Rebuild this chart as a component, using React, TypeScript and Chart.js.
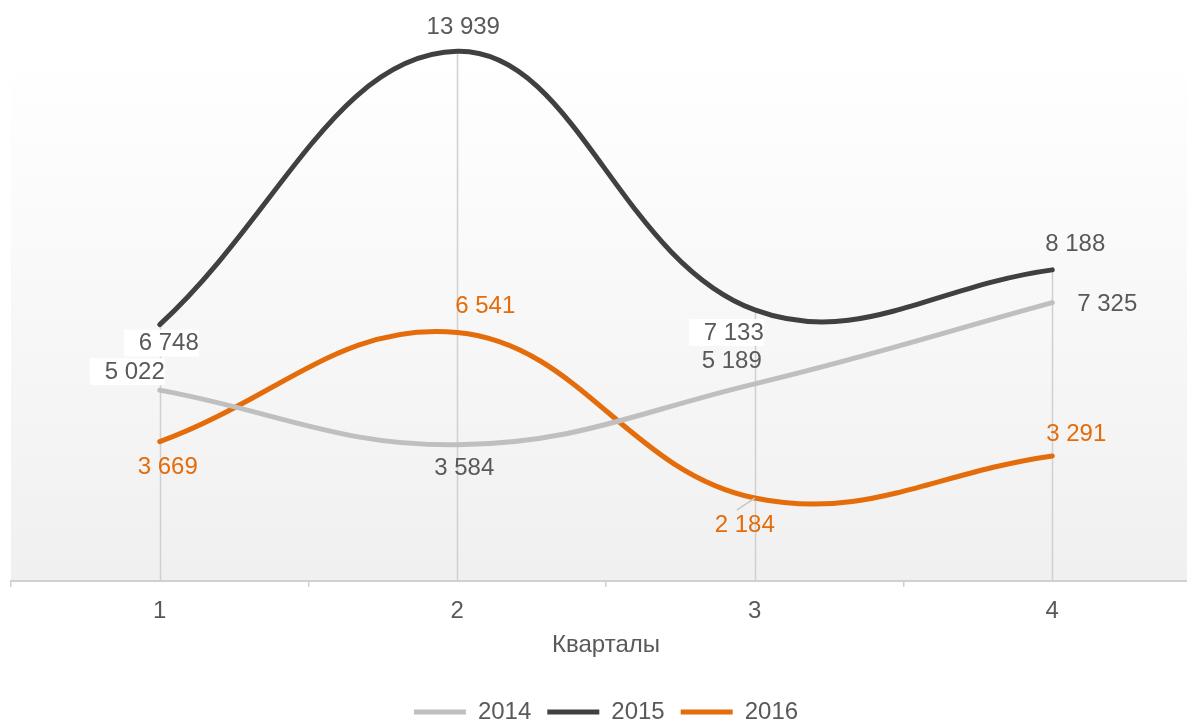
import React, { useEffect, useRef } from "react";
import { Chart, registerables } from "chart.js";

Chart.register(...registerables);

const categories = ["1", "2", "3", "4"];
const series2014 = [5022, 3584, 5189, 7325];
const series2015 = [6748, 13939, 7133, 8188];
const series2016 = [3669, 6541, 2184, 3291];
const seriesNames = ["2014", "2015", "2016"];
const axisTitle = "Кварталы";

const COLORS = ["#BFBFBF", "#404040", "#E46C0A"];
const TEXT_GREY = "#595959";
const FONT = "'Liberation Sans', Arial, sans-serif";

// label placement relative to each point: [dx, dy, whiteBox]
const LABEL_PLACEMENT: [number, number, boolean][][] = [
  [[-25, -18, true], [7, 24, false], [-23, -22, false], [55, 2, false]],
  [[9, 19, true], [6, -24, false], [-21, 23, true], [23, -25, false]],
  [[8, 26, false], [28, -26, false], [-10, 27, false], [24, -22, false]],
];

const fmt = (v: number) => String(v).replace(/\B(?=(\d{3})+(?!\d))/g, " ");

const bgPlugin = {
  id: "bgPlugin",
  beforeDraw(chart: any) {
    const { ctx, chartArea } = chart;
    const top = chartArea.top + 4;
    const g = ctx.createLinearGradient(0, top, 0, chartArea.bottom);
    g.addColorStop(0, "#FFFFFF");
    g.addColorStop(1, "#F0F0F0");
    ctx.save();
    ctx.fillStyle = g;
    ctx.fillRect(chartArea.left, top, chartArea.right - chartArea.left, chartArea.bottom - top);
    ctx.restore();
  },
};

const dropLinePlugin = {
  id: "dropLines",
  beforeDatasetsDraw(chart: any) {
    const { ctx, chartArea } = chart;
    const x = chart.scales.x;
    const y = chart.scales.y;
    ctx.save();
    ctx.strokeStyle = "#D0D0D0";
    ctx.lineWidth = 1.5;
    categories.forEach((_, i) => {
      const maxV = Math.max(...chart.data.datasets.map((d: any) => d.data[i]));
      const px = Math.round(x.getPixelForValue(i)) + 0.5;
      ctx.beginPath();
      ctx.moveTo(px, y.getPixelForValue(maxV));
      ctx.lineTo(px, chartArea.bottom);
      ctx.stroke();
    });
    ctx.restore();
  },
};

const labelPlugin = {
  id: "valueLabels",
  afterDatasetsDraw(chart: any) {
    const { ctx } = chart;
    ctx.save();
    ctx.font = `24px ${FONT}`;
    ctx.textAlign = "center";
    ctx.textBaseline = "middle";
    chart.data.datasets.forEach((ds: any, si: number) => {
      const meta = chart.getDatasetMeta(si);
      meta.data.forEach((pt: any, i: number) => {
        const [dx, dy, box] = LABEL_PLACEMENT[si][i];
        const text = fmt(ds.data[i]);
        const cx = pt.x + dx;
        const cy = pt.y + dy;
        const w = ctx.measureText(text).width;
        if (box) {
          ctx.fillStyle = "#FFFFFF";
          ctx.fillRect(cx + w / 2 - 75, cy - 14, 75, 27);
        }
        if (si === 2 && i === 2) {
          ctx.strokeStyle = "#C8C8C8";
          ctx.lineWidth = 1.5;
          ctx.beginPath();
          ctx.moveTo(pt.x, pt.y);
          ctx.lineTo(pt.x - 18, pt.y + 12);
          ctx.stroke();
        }
        ctx.fillStyle = si === 2 ? COLORS[2] : TEXT_GREY;
        ctx.fillText(text, cx, cy);
      });
    });
    ctx.restore();
  },
};

export default function App() {
  const ref = useRef<HTMLCanvasElement>(null);
  useEffect(() => {
    const canvas = ref.current!;
    const chart = new Chart(canvas, {
      type: "line",
      data: {
        labels: categories,
        datasets: [series2014, series2015, series2016].map((d, i) => ({
          label: seriesNames[i],
          data: d,
          borderColor: COLORS[i],
          backgroundColor: COLORS[i],
          borderWidth: 5,
          borderCapStyle: "round" as const,
          pointRadius: 0,
          pointHoverRadius: 0,
          tension: 0.4,
          fill: false,
          clip: false as any,
        })),
      },
      options: {
        responsive: false,
        animation: false,
        devicePixelRatio: 1,
        layout: { padding: { left: 11, right: 11, top: 49, bottom: 0 } },
        plugins: {
          legend: {
            position: "bottom",
            labels: {
              usePointStyle: true,
              pointStyle: "line",
              pointStyleWidth: 52,
              padding: 16,
              color: TEXT_GREY,
              font: { family: FONT, size: 24 },
            },
          },
          tooltip: { enabled: false },
        },
        scales: {
          x: {
            type: "category",
            offset: true,
            grid: {
              offset: true,
              drawOnChartArea: false,
              drawTicks: true,
              tickLength: 6,
              color: "#D0D0D0",
              lineWidth: 1.5,
            },
            border: { display: true, color: "#D0D0D0", width: 2 },
            ticks: { color: TEXT_GREY, font: { family: FONT, size: 24 }, padding: 10 },
            title: {
              display: true,
              text: axisTitle,
              color: TEXT_GREY,
              font: { family: FONT, size: 24 },
              padding: { top: -5.2, bottom: 24.6 },
            },
          },
          y: { display: false, min: 0, max: 14000 },
        },
      },
      plugins: [bgPlugin, dropLinePlugin, labelPlugin],
    });
    return () => chart.destroy();
  }, []);
  return (
    <div style={{ position: "fixed", left: 0, top: 0, width: "100vw", height: "100vh", overflow: "hidden", background: "#FFFFFF" }}>
      <canvas ref={ref} width={1212} height={734} style={{ display: "block", width: 1212, height: 734 }} />
    </div>
  );
}
